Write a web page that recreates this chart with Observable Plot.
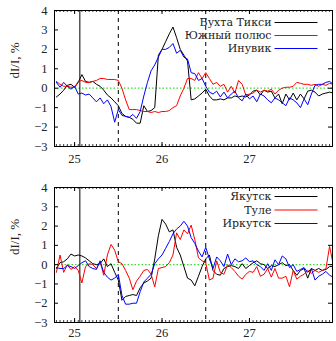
<!DOCTYPE html>
<html><head><meta charset="utf-8">
<script src="https://cdn.jsdelivr.net/npm/d3@7"></script>
<script src="https://cdn.jsdelivr.net/npm/@observablehq/plot@0.6"></script>
<style>body{margin:0;background:#fff}#chart svg{display:block}</style>
</head><body><div id="chart"></div>
<script>
// time axis: hourly samples starting 24 + 19/24 (day of month)
const startHour = 24 * 24 + 19;
const xTicks = [25, 26, 27];
const yTicks = [-3, -2, -1, 0, 1, 2, 3, 4];
const solidLines = [25.06];
const dashedLines = [25.5, 26.5];
const yLabel = "dI/I, %";

const topNames = ["Бухта Тикси", "Южный полюс", "Инувик"];
const tiksi = [-0.45,-0.3,-0.1,0.15,0.2,0.05,0.3,0.7,0.35,0.3,
  0.35,0.2,0.1,-0.1,-0.35,-0.5,-0.7,-0.9,-1.3,-1.45,
  -1.5,-1.6,-1.8,-1.8,-0.9,-1.2,-1.15,-1.0,1.7,2.0,
  2.4,2.8,3.15,2.6,2.0,1.7,1.4,-0.6,-0.55,-0.4,
  -0.25,-0.05,-0.4,-0.6,-0.6,-0.55,-0.6,-0.5,-0.5,-0.4,
  -0.45,-0.4,-0.45,-0.35,-0.15,-0.1,-0.35,-0.1,-0.2,-0.15,
  -0.5,-0.3,-0.8,-0.3,-0.6,-0.25,-0.6,-0.3,-0.55,-0.15,
  -0.1,-0.2,-0.4,-0.3,-0.25,-0.2,-0.25];
const southPole = [0.35,0.2,0.1,0.1,0.05,0.05,0.35,0.4,0.3,0.3,
  0.35,0.4,0.5,0.5,0.45,0.45,0.45,0.4,0.0,-0.6,
  -1.1,-1.1,-1.1,-1.15,-1.2,-1.2,-1.25,-1.2,-1.25,-1.2,
  -1.2,-1.15,-1.0,-0.9,-0.4,0.0,0.5,0.5,0.4,0.8,
  0.5,0.8,0.5,0.2,0.3,0.1,0.2,-0.2,0.1,-0.25,
  0.4,0.2,-0.35,-0.3,-0.25,-0.1,-0.2,-0.1,-0.15,-0.05,
  -0.3,-0.1,0.0,0.05,0.05,0.1,0.3,0.25,0.2,0.2,
  0.15,0.2,0.1,0.2,0.15,0.25,0.2];
const inuvik = [0.3,0.05,0.3,0.1,-0.05,0.1,-0.3,-0.25,-0.35,-0.3,
  -0.5,-0.7,-0.5,-0.8,-0.6,-0.95,-1.75,-1.1,-1.4,-1.45,
  -1.5,-1.35,-1.55,-1.2,-0.4,0.3,0.9,1.2,1.6,2.0,
  2.0,2.1,2.3,1.8,1.95,1.6,1.5,0.8,0.75,0.4,
  0.5,0.1,-0.2,-0.3,-0.15,-0.45,-0.2,-0.5,-0.3,-0.15,
  -0.5,-0.65,-0.3,-0.55,-0.4,-0.7,-0.3,-0.4,-0.6,-0.75,
  -0.5,-0.6,-0.75,-0.9,-0.5,-0.6,-0.75,-1.0,-0.55,-0.85,
  -0.3,0.15,0.2,0.2,0.3,0.35,0.2];

const bottomNames = ["Якутск", "Туле", "Иркутск"];
const yakutsk = [-0.2,0.1,0.15,0.3,0.55,0.45,0.5,0.45,0.35,0.2,
  0.05,0.0,0.05,0.3,-0.1,0.05,-0.4,-0.8,-1.85,-1.65,
  -1.6,-1.55,-1.6,-1.2,-0.95,-0.85,-0.7,0.3,1.5,2.35,
  2.1,1.7,1.8,0.9,0.5,-0.1,-0.7,-0.8,-1.1,-0.6,
  -0.1,0.3,0.5,-0.3,-0.5,-0.55,-0.2,-0.1,-0.05,-0.1,
  -0.2,0.05,-0.2,-0.05,0.1,0.2,0.05,0.0,-0.2,-0.05,
  -0.1,0.0,0.1,-0.05,0.0,-0.3,-0.55,-0.3,-0.2,-0.7,
  -0.2,-0.3,-0.2,-0.3,-0.25,-0.1,-0.1];
const thule = [-0.4,0.5,-0.4,0.0,-0.25,-0.1,-0.3,-0.95,-0.1,0.05,
  0.0,-0.2,0.15,-0.55,0.5,1.05,0.75,0.15,0.05,-0.3,
  -0.7,-1.3,-0.85,-0.6,-0.3,-0.25,-0.5,-1.15,-0.2,-0.15,
  -0.1,0.1,0.5,1.65,1.3,1.8,1.6,2.05,1.3,0.35,
  0.2,0.1,-0.8,-0.7,0.2,-0.4,-0.5,0.0,-0.15,-0.35,
  -0.6,-0.75,-0.5,-0.35,-0.4,-0.1,-0.6,-0.5,-0.2,-0.65,
  -0.2,-0.7,-0.7,-0.6,-1.15,-0.3,-0.75,-0.6,-0.5,-0.3,
  -0.45,-0.3,-0.4,-0.3,-0.2,0.95,0.0];
const irkutsk = [-0.15,-0.2,-0.2,-0.05,-0.1,-0.2,-0.05,0.1,0.2,-0.1,
  -0.2,-0.25,0.2,-0.4,-0.65,-0.8,-0.7,-0.5,-1.6,-2.05,
  -2.05,-2.0,-2.0,-1.4,-0.9,-0.7,-0.5,0.05,0.3,0.5,
  0.85,1.2,1.6,1.85,2.0,2.25,2.0,1.4,1.1,0.7,
  0.4,0.9,0.3,-0.2,0.4,0.2,-0.1,0.55,0.0,0.3,
  0.15,0.2,0.35,0.15,0.2,0.0,-0.1,-0.3,0.05,-0.3,
  0.25,0.0,0.45,0.3,-0.15,0.0,-0.35,-0.25,-0.15,-0.4,
  -0.2,-0.8,-0.6,-0.5,-0.35,-0.55,-0.65];

const colors = ["#000000", "#ff0000", "#0000ff"];
const W = 336, ML = 54, MR = 4;
const X0 = 24.77, X1 = 27.95;

function panel(names, series, o) {
  const rows = series.flatMap((vals, k) =>
    vals.map((v, i) => ({t: (startHour + i) / 24, v, name: names[k]})));
  const H = o.height - o.marginTop - o.marginBottom;
  const xs = d3.scaleLinear([X0, X1], [ML, W - MR]);
  const ys = d3.scaleLinear([-3, 4], [o.marginTop + H, o.marginTop]);
  const minor = d3.range(Math.ceil(X0 * 24), Math.floor(X1 * 24) + 1).map(h => h / 24);
  const leg = names.map((name, i) => ({
    name,
    y: ys.invert(o.legendTop + i * o.legendStep),
    xt: xs.invert(271), xa: xs.invert(274), xb: xs.invert(317)
  }));
  return Plot.plot({
    width: W, height: o.height,
    marginLeft: ML, marginRight: MR, marginTop: o.marginTop, marginBottom: o.marginBottom,
    style: {fontFamily: "'Liberation Serif', serif", fontSize: "12px", background: "white", overflow: "visible"},
    x: {domain: [X0, X1], label: null},
    y: {domain: [-3, 4], label: null},
    color: {domain: names, range: colors},
    marks: [
      Plot.ruleY([0], {stroke: "#33dd33", strokeWidth: 1.2, strokeDasharray: "1.5,2"}),
      Plot.ruleX(solidLines, {stroke: "#000", strokeWidth: 1}),
      Plot.ruleX(dashedLines, {stroke: "#000", strokeWidth: 1, strokeDasharray: "4,4"}),
      Plot.lineY(rows, {x: "t", y: "v", z: "name", stroke: "name", strokeWidth: 1, clip: true, curve: "linear"}),
      Plot.text(leg, {x: "xt", y: "y", text: "name", textAnchor: "end", fontSize: 11, fontFamily: "'DejaVu Serif', serif", fill: "#222"}),
      Plot.link(leg, {x1: "xa", x2: "xb", y1: "y", y2: "y", stroke: "name", strokeWidth: 1}),
      Plot.frame({stroke: "#000", strokeWidth: 1}),
      Plot.tickX(minor, {x: d => d, insetTop: H - 2, stroke: "#000", strokeWidth: 0.8}),
      Plot.tickX(minor, {x: d => d, insetBottom: H - 2, stroke: "#000", strokeWidth: 0.8}),
      Plot.tickX(xTicks, {x: d => d, insetTop: H - 4, stroke: "#000"}),
      Plot.tickX(xTicks, {x: d => d, insetBottom: H - 4, stroke: "#000"}),
      Plot.tickY(yTicks, {y: d => d, insetRight: W - ML - MR - 4, stroke: "#000"}),
      Plot.tickY(yTicks, {y: d => d, insetLeft: W - ML - MR - 4, stroke: "#000"}),
      Plot.axisX(xTicks, {tickSize: 0, tickPadding: o.xPad, label: null, fontSize: 12.5, fill: "#222", tickFormat: d => String(d)}),
      Plot.axisY(yTicks, {tickSize: 0, tickPadding: 7, label: null, fontSize: 12.5, fill: "#222", tickFormat: d => d < 0 ? "\u2212" + (-d) : String(d)}),
      Plot.text([yLabel], {frameAnchor: "left", dx: -40, rotate: -90, text: d => d, fontSize: 13, fill: "#222"})
    ]
  });
}

const chart = document.getElementById("chart");
chart.append(panel(topNames, [tiksi, southPole, inuvik],
  {height: 170, marginTop: 10, marginBottom: 24, xPad: 8, legendTop: 22, legendStep: 13}));
chart.append(panel(bottomNames, [yakutsk, thule, irkutsk],
  {height: 171, marginTop: 17, marginBottom: 19, xPad: 6, legendTop: 26, legendStep: 13.5}));
</script>
</body></html>
